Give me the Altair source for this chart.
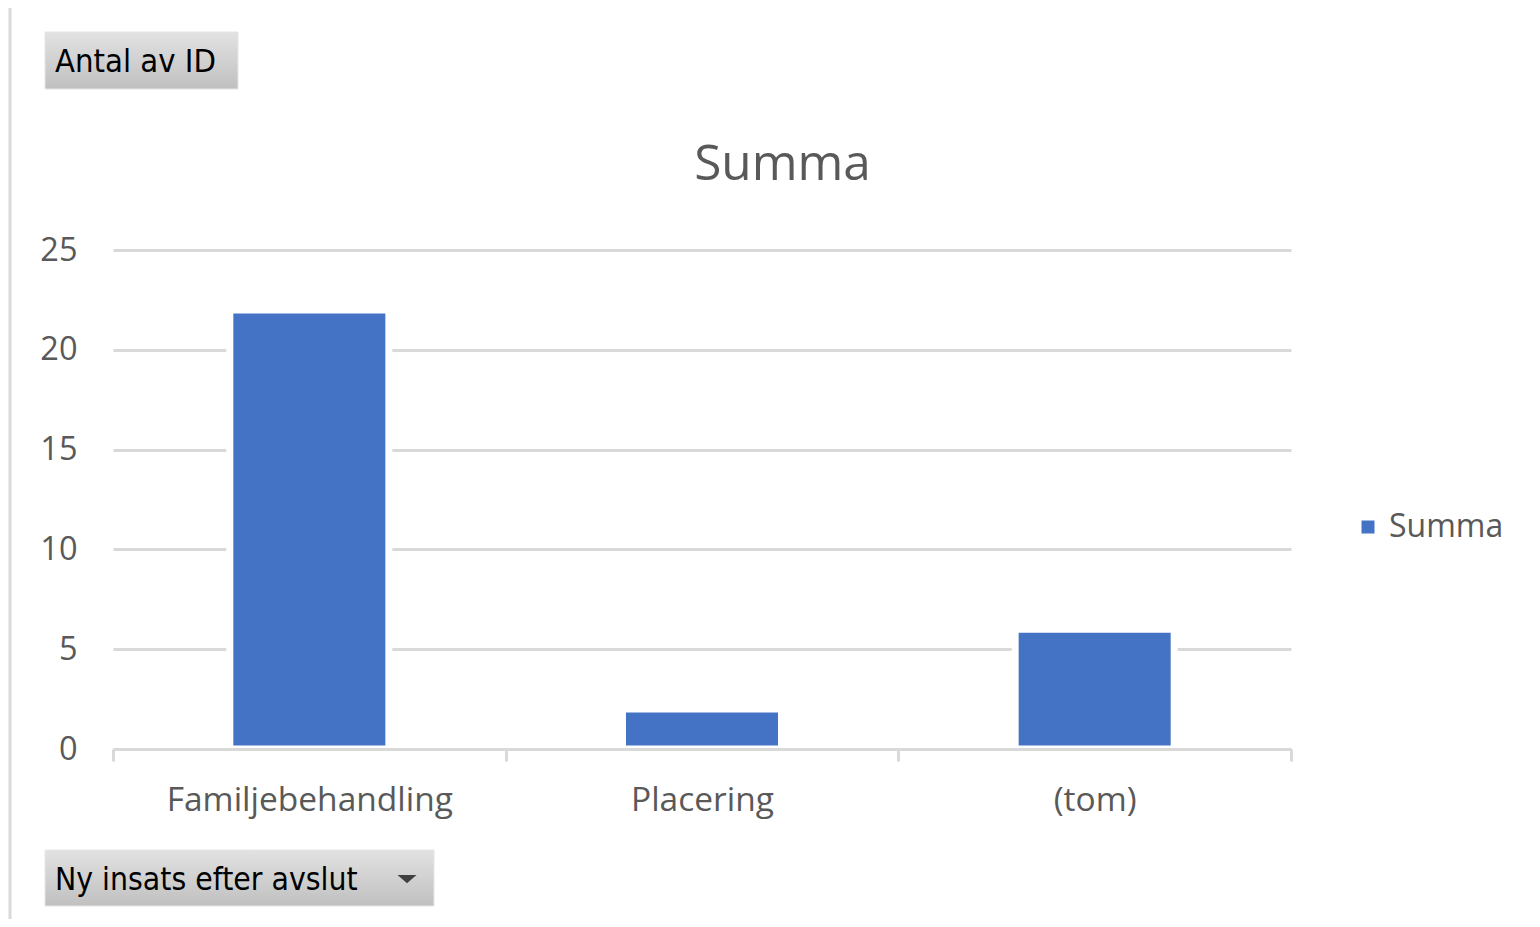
import altair as alt
import pandas as pd

# ---- data ----
categories = ["Familjebehandling", "Placering", "(tom)"]
values = [22, 2, 6]
series_name = ["Summa", "Summa", "Summa"]
y_ticks = [0, 5, 10, 15, 20, 25]
value_button = ["Antal av ID"]
axis_button = ["Ny insats efter avslut"]
chart_title = ["Summa"]

df = pd.DataFrame({"kategori": categories, "antal": values, "serie": series_name})

W, H = 1178, 499
GREY_TXT = "#595959"
GRID = "#d9d9d9"
FONT = "Open Sans"
BTN_FONT = "DejaVu Sans Condensed, DejaVu Sans"

x_enc = alt.X(
    "kategori:N", sort=categories,
    scale=alt.Scale(paddingInner=0, paddingOuter=0),
    axis=alt.Axis(title=None, labelAngle=0, labelFontSize=33.5, labelFont=FONT,
                  labelColor=GREY_TXT, labelPadding=23, labelLimit=0, tickBand="extent",
                  tickSize=12, tickWidth=3, tickColor=GRID, domainColor=GRID,
                  domainWidth=3, grid=False, zindex=1))
y_enc = alt.Y(
    "antal:Q", scale=alt.Scale(domain=[0, 25], nice=False),
    axis=alt.Axis(title=None, values=y_ticks, labelFontSize=32.5, labelFont=FONT,
                  labelColor=GREY_TXT, labelPadding=36, ticks=False, tickSize=0,
                  domain=False, gridColor=GRID, gridWidth=3))

bars = alt.Chart(df).mark_bar(
    width=alt.RelativeBandSize(0.405), stroke="white", strokeWidth=7
).encode(
    x=x_enc, y=y_enc,
    color=alt.Color("serie:N", scale=alt.Scale(range=["#4472C4"]),
                    legend=alt.Legend(orient="none", legendX=1239, legendY=261,
                                      padding=0, symbolType="square", symbolSize=169,
                                      symbolStrokeWidth=0, labelFontSize=32,
                                      labelFont=FONT, labelColor=GREY_TXT,
                                      labelOffset=5, title=None))
)

grad = alt.Gradient(gradient="linear",
                    stops=[alt.GradientStop(color="#e2e2e2", offset=0),
                           alt.GradientStop(color="#c0c0c0", offset=1)],
                    x1=0, x2=0, y1=0, y2=1)

title_df = pd.DataFrame({"t": chart_title})
btn1_df = pd.DataFrame({"t": value_button})
btn2_df = pd.DataFrame({"t": axis_button})

title_txt = alt.Chart(title_df).mark_text(
    align="center", baseline="alphabetic", font=FONT, fontSize=49.5, color=GREY_TXT
).encode(text="t:N", x=alt.value(669.5), y=alt.value(-70))

btn1_box = alt.Chart(btn1_df).mark_rect(fill=grad, stroke="#e6e6e6", strokeWidth=1).encode(
    x=alt.value(-68), x2=alt.value(125), y=alt.value(-218), y2=alt.value(-161))
btn1_txt = alt.Chart(btn1_df).mark_text(
    align="left", baseline="alphabetic", font=BTN_FONT, fontSize=32.5, color="#000000"
).encode(text="t:N", x=alt.value(-58), y=alt.value(-178))

btn2_box = alt.Chart(btn2_df).mark_rect(fill=grad, stroke="#e6e6e6", strokeWidth=1).encode(
    x=alt.value(-68), x2=alt.value(321), y=alt.value(600), y2=alt.value(656))
btn2_txt = alt.Chart(btn2_df).mark_text(
    align="left", baseline="alphabetic", font=BTN_FONT, fontSize=31.6, color="#000000"
).encode(text="t:N", x=alt.value(-58), y=alt.value(640))
btn2_arrow = alt.Chart(btn2_df).mark_point(
    shape="M-1,-0.42L1,-0.42L0,0.45Z", filled=True, size=361, color="#404040", opacity=1
).encode(x=alt.value(294), y=alt.value(629))

left_border = alt.Chart(btn1_df).mark_rule(color=GRID, strokeWidth=3).encode(
    x=alt.value(-103), y=alt.value(-242), y2=alt.value(680))

chart = alt.layer(
    bars, title_txt, btn1_box, btn1_txt, btn2_box, btn2_txt, btn2_arrow, left_border
).properties(
    width=W, height=H,
    background="white",
    autosize=alt.AutoSizeParams(type="none"),
    padding={"left": 105, "top": 242, "right": 241, "bottom": 170},
).configure_view(stroke=None)

chart.save("out.html", embed_options={"renderer": "svg", "actions": False})
